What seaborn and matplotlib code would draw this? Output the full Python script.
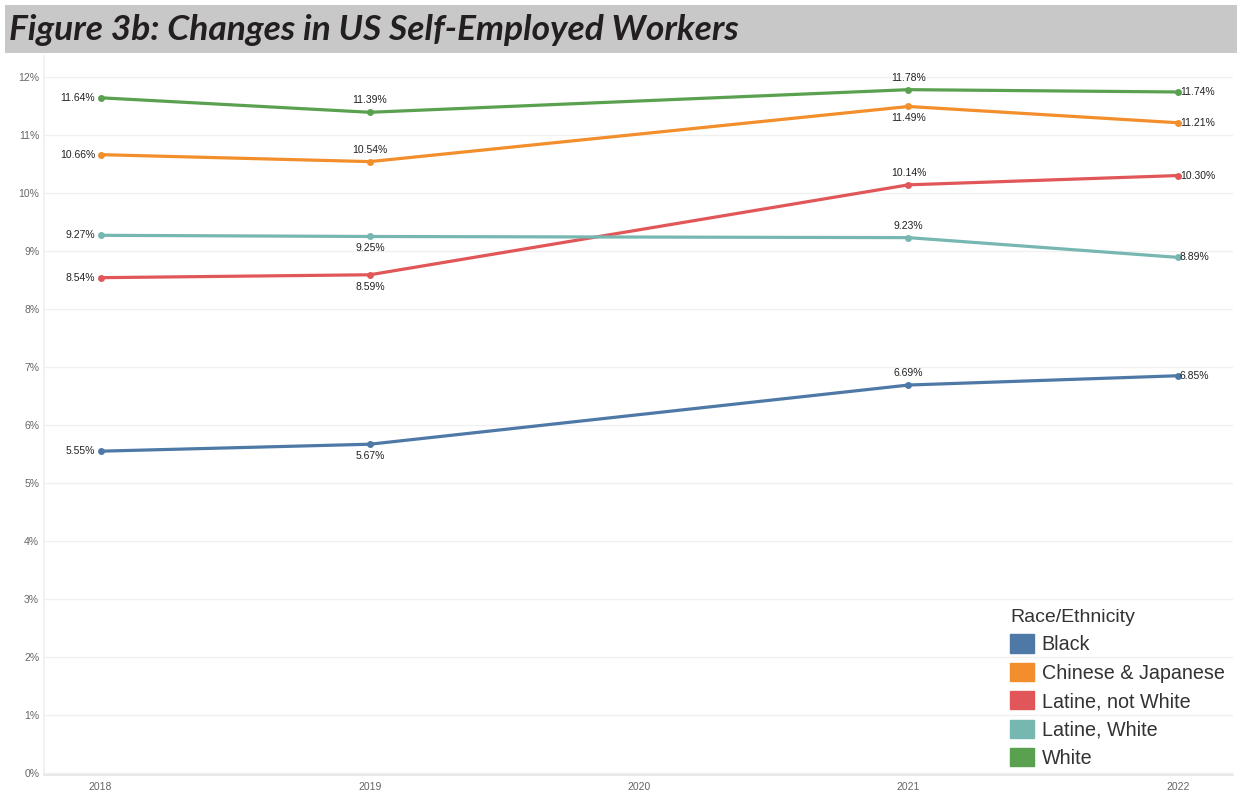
import matplotlib
matplotlib.use("Agg")
import matplotlib.pyplot as plt
import matplotlib.patches as mpatches
import seaborn as sns
import pandas as pd

years = [2018, 2019, 2021, 2022]
groups = ["Black", "Chinese & Japanese", "Latine, not White", "Latine, White", "White"]
black = [5.55, 5.67, 6.69, 6.85]
chinese_japanese = [10.66, 10.54, 11.49, 11.21]
latine_not_white = [8.54, 8.59, 10.14, 10.30]
latine_white = [9.27, 9.25, 9.23, 8.89]
white = [11.64, 11.39, 11.78, 11.74]
colors = ["#4e79a7", "#f28e2b", "#e15759", "#76b7b2", "#59a14f"]
x_ticks = [2018, 2019, 2020, 2021, 2022]
y_ticks = list(range(0, 13))

series = [black, chinese_japanese, latine_not_white, latine_white, white]
rows = []
for g, vals in zip(groups, series):
    for y, v in zip(years, vals):
        rows.append({"Year": y, "Share": v, "Race/Ethnicity": g})
df = pd.DataFrame(rows)

sns.set_theme(style="white")
plt.rcParams["font.family"] = ["Liberation Sans", "DejaVu Sans"]

fig = plt.figure(figsize=(12.37, 7.94), dpi=100)
ax = fig.add_axes([44/1237, 1-775/794, (1233-44)/1237, (775-56)/794])

palette = dict(zip(groups, colors))
sns.lineplot(data=df, x="Year", y="Share", hue="Race/Ethnicity", palette=palette,
             marker="o", markersize=5, markeredgewidth=0, linewidth=2.3, ax=ax, legend=False)

ax.set_xlim(2017.79, 2022.205)
ax.set_ylim(-0.03, 12.36)
ax.set_xticks(x_ticks)
ax.set_xticklabels([str(x) for x in x_ticks])
ax.set_yticks(y_ticks)
ax.set_yticklabels([f"{t}%" for t in y_ticks])
ax.tick_params(axis="both", labelsize=7.5, labelcolor="#666666", length=0)
ax.tick_params(axis="x", length=3, color="#e6e6e6", pad=2)
ax.set_xlabel("")
ax.set_ylabel("")
ax.yaxis.grid(True, color="#f0f0f0", linewidth=1)
ax.set_axisbelow(True)
for s in ["top", "right"]:
    ax.spines[s].set_visible(False)
ax.spines["left"].set_color("#f0f0f0")
ax.spines["bottom"].set_color("#e6e6e6")
ax.spines["bottom"].set_linestyle((0, (2, 1)))

# label placement per (group, year index): 'l','r','a','b'
placement = {
    "Black": ["l", "b", "a", "r"],
    "Chinese & Japanese": ["l", "a", "b", "r"],
    "Latine, not White": ["l", "b", "a", "r"],
    "Latine, White": ["l", "b", "a", "r"],
    "White": ["l", "a", "a", "r"],
}
for g, vals in zip(groups, series):
    for i, (y, v) in enumerate(zip(years, vals)):
        p = placement[g][i]
        txt = f"{v:.2f}%"
        kw = dict(fontsize=7.5, color="#222222")
        if p == "l":
            ax.annotate(txt, (y, v), xytext=(-4, 0), textcoords="offset points", ha="right", va="center", **kw)
        elif p == "r":
            ax.annotate(txt, (y, v), xytext=(1.5, 0), textcoords="offset points", ha="left", va="center", **kw)
        elif p == "a":
            ax.annotate(txt, (y, v), xytext=(0, 5), textcoords="offset points", ha="center", va="bottom", **kw)
        else:
            ax.annotate(txt, (y, v), xytext=(0, -5), textcoords="offset points", ha="center", va="top", **kw)

handles = [mpatches.Patch(color=c, label=g) for g, c in zip(groups, colors)]
leg = ax.legend(handles=handles, title="Race/Ethnicity", loc="lower left",
                bbox_to_anchor=(1010/1237, 1-768/794), bbox_transform=fig.transFigure,
                frameon=False, fontsize=14.2, title_fontsize=14,
                handlelength=1.24, handleheight=1.03, handletextpad=0.36,
                labelspacing=0.44, borderaxespad=0, borderpad=0, alignment="left")
for t in leg.get_texts():
    t.set_color("#333333")
leg.get_title().set_color("#333333")

# title band
fig.patches.append(mpatches.Rectangle((5/1237, 1-53/794), 1-5/1237, 48/794,
                                      transform=fig.transFigure, facecolor="#c8c8c9",
                                      edgecolor="none", zorder=0))
fig.text(9/1237, 1-30/794, "Figure 3b: Changes in US Self-Employed Workers",
         fontsize=25.5, fontweight="bold", fontstyle="italic", family=["Lato", "DejaVu Sans"],
         color="#231f20", va="center", ha="left")

fig.savefig("out.png", dpi=100)
